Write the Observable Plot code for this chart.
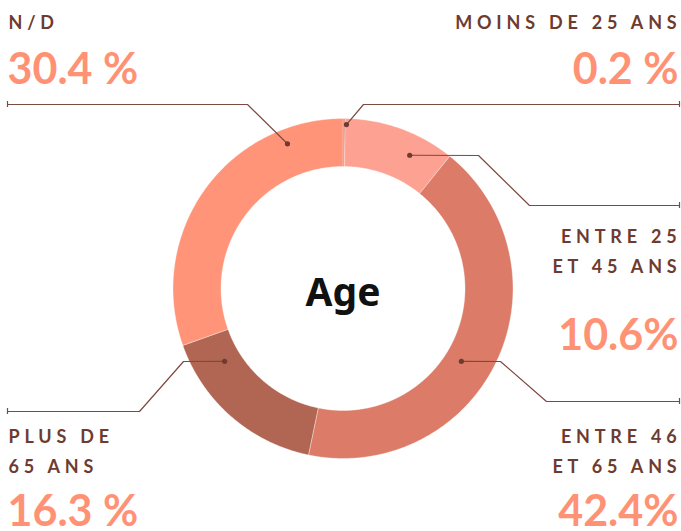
<!DOCTYPE html>
<html>
<head>
<meta charset="utf-8">
<script src="https://cdn.jsdelivr.net/npm/d3@7"></script>
<script src="https://cdn.jsdelivr.net/npm/@observablehq/plot@0.6"></script>
<style>
  html, body { margin: 0; padding: 0; background: #fff; }
  #chart svg { display: block; }
  [aria-description="category-labels"], [aria-description="category-labels"] text { letter-spacing: 4.8px; }
</style>
</head>
<body>
<div id="chart"></div>
<script>
// ---- data ----
const categories = ["Moins de 25 ans", "Entre 25 et 45 ans", "Entre 46 et 65 ans", "Plus de 65 ans", "N/D"];
const values = [0.2, 10.6, 42.4, 16.3, 30.4];
const labelTexts = ["MOINS DE 25 ANS", "ENTRE 25\nET 45 ANS", "ENTRE 46\nET 65 ANS", "PLUS DE\n65 ANS", "N/D"];
const valueTexts = ["0.2 %", "10.6%", "42.4%", "16.3 %", "30.4 %"];
const centerTitle = "Age";

// ---- style / layout ----
const colors = ["#d97a6a", "#fda193", "#db7b68", "#b06652", "#ff9478"];
const W = 681, H = 531;
const cx = 342.5, cy = 288, rOuter = 170, rInner = 122;
const brown = "#6e3b30", salmon = "#ff9274", lineColor = "#7e4a3f";

// annotation layout (page pixels): dot polar position, elbow points, end x
const annot = [
  {dotA: 1.2, dotR: 164, path: [[363, 104], [679, 104]], label: {x: 681, y: 28, anchor: "end"}, value: {x: 678, y: 83}},
  {dotA: 26.6, dotR: 149, path: [[478, 155], [529, 205], [679, 205]], label: {x: 681, y: 272, anchor: "end"}, value: {x: 678, y: 349}},
  {dotA: 121.6, dotR: 139, path: [[500, 361], [546, 401], [679, 401]], label: {x: 681, y: 472, anchor: "end"}, value: {x: 678, y: 525}},
  {dotA: 238.4, dotR: 139, path: [[183, 361], [139, 411], [7, 411]], label: {x: 8, y: 472, anchor: "start"}, value: {x: 7, y: 525}},
  {dotA: 339, dotR: 155, path: [[247, 104], [7, 104]], label: {x: 8, y: 28, anchor: "start"}, value: {x: 7, y: 83}}
];

const total = d3.sum(values);
const rad = (deg) => deg * Math.PI / 180;
const polar = (aDeg, r) => [cx + r * Math.sin(rad(aDeg)), cy - r * Math.cos(rad(aDeg))];

// slice polygons from cumulative values
const slicePts = [];
let acc = 0;
values.forEach((v, i) => {
  const a0 = acc / total * 360, a1 = (acc + v) / total * 360;
  acc += v;
  const n = Math.max(2, Math.ceil((a1 - a0) / 0.5));
  const outer = d3.range(n + 1).map(k => a0 + (a1 - a0) * k / n);
  const pts = [];
  outer.forEach(a => { const [x, y] = polar(a, rOuter); pts.push({cat: categories[i], x, y}); });
  outer.slice().reverse().forEach(a => { const [x, y] = polar(a, rInner); pts.push({cat: categories[i], x, y}); });
  pts.push({...pts[0]});
  slicePts.push(...pts);
});

// leader lines
const leaderPts = [];
const dots = [];
const ends = [];
annot.forEach((a, i) => {
  const [dx, dy] = polar(a.dotA, a.dotR);
  dots.push({x: dx, y: dy});
  leaderPts.push({k: i, x: dx, y: dy});
  a.path.forEach(([x, y]) => leaderPts.push({k: i, x, y}));
  const last = a.path[a.path.length - 1];
  ends.push({x: last[0], y: last[1]});
});

const labels = annot.map((a, i) => ({text: labelTexts[i], x: a.label.x, y: a.label.y, anchor: a.label.anchor}));
const vals = annot.map((a, i) => ({text: valueTexts[i], x: a.value.x, y: a.value.y, anchor: a.label.anchor}));

const chart = Plot.plot({
  width: W, height: H,
  margin: 0,
  x: {domain: [0, W], range: [0, W], axis: null},
  y: {domain: [0, H], range: [0, H], axis: null},
  color: {domain: categories, range: colors},
  style: {fontFamily: "Lato, 'Open Sans', sans-serif", background: "#fff"},
  marks: [
    Plot.line(slicePts, {x: "x", y: "y", z: "cat", fill: "cat", stroke: "#fff", strokeWidth: 0.6, strokeOpacity: 0.6, curve: "linear"}),
    Plot.line(leaderPts, {x: "x", y: "y", z: "k", stroke: lineColor, strokeWidth: 1.2}),
    Plot.dot(dots, {x: "x", y: "y", r: 2.6, fill: brown, stroke: null}),
    Plot.ruleX(ends, {x: "x", y1: d => d.y - 3, y2: d => d.y + 3, stroke: lineColor, strokeWidth: 1.2}),
    Plot.text(labels.filter(d => d.anchor === "end"), {x: "x", y: "y", text: "text", textAnchor: "end", lineAnchor: "bottom", lineHeight: 1.667, fontSize: 18, fontWeight: "bold", fill: brown, ariaDescription: "category-labels"}),
    Plot.text(labels.filter(d => d.anchor === "start"), {x: "x", y: "y", text: "text", textAnchor: "start", lineAnchor: "bottom", lineHeight: 1.667, fontSize: 18, fontWeight: "bold", fill: brown, ariaDescription: "category-labels"}),
    Plot.text(vals.filter(d => d.anchor === "end"), {x: "x", y: "y", text: "text", textAnchor: "end", lineAnchor: "bottom", fontSize: 43, fontWeight: 700, fill: salmon}),
    Plot.text(vals.filter(d => d.anchor === "start"), {x: "x", y: "y", text: "text", textAnchor: "start", lineAnchor: "bottom", fontSize: 43, fontWeight: 700, fill: salmon}),
    Plot.text([centerTitle], {x: [cx], y: [305], text: d => d, textAnchor: "middle", lineAnchor: "bottom", fontSize: 39, fontWeight: "bold", fontFamily: "'Noto Sans', sans-serif", fill: "#111"})
  ]
});
chart.querySelectorAll('[aria-description="category-labels"]').forEach(el => { el.style.letterSpacing = "4.8px"; });
document.getElementById("chart").appendChild(chart);
</script>
</body>
</html>
